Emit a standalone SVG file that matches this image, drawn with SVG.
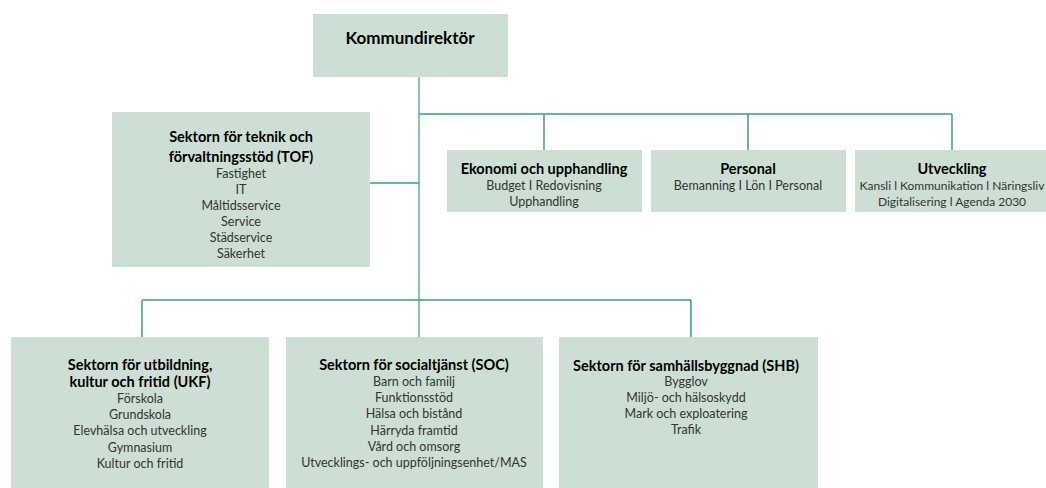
<svg xmlns="http://www.w3.org/2000/svg" width="1046" height="488" viewBox="0 0 1046 488">
<style>
.box{fill:#cddfd4;}
.t{font-family:Lato,"Open Sans","Liberation Sans",sans-serif;text-anchor:middle;dominant-baseline:central;}
.h{font-weight:bold;font-size:14.5px;fill:#000;}
.b{font-size:12.5px;fill:#333;}
.c{stroke:#34a474;stroke-width:1.5;fill:none;}
.m{stroke:#7dcaa4;stroke-width:2;fill:none;}
</style>
<rect width="1046" height="488" fill="#fff"/>
<g id="connectors">
<path class="m" d="M419 77 V337"/>
<path class="c" d="M419 114 H952 M544 114 V150 M748 114 V150 M952 114 V150"/>
<path class="c" d="M370 183 H419"/>
<path class="c" d="M142 300 H691 M142 300 V337 M691 300 V337"/>
</g>
<g id="kommundirektor">
<rect class="box" x="313" y="14" width="195" height="63"/>
<text class="t" x="410" y="37" style="font-weight:bold;font-size:17px">Kommundirektör</text>
</g>
<g id="tof">
<rect class="box" x="112" y="112" width="258" height="155"/>
<text class="t h" x="241" y="136">Sektorn för teknik och</text>
<text class="t h" x="241" y="156">förvaltningsstöd (TOF)</text>
<text class="t b" x="241" y="173">Fastighet</text>
<text class="t b" x="241" y="189">IT</text>
<text class="t b" x="241" y="205">Måltidsservice</text>
<text class="t b" x="241" y="221">Service</text>
<text class="t b" x="241" y="237">Städservice</text>
<text class="t b" x="241" y="253">Säkerhet</text>
</g>
<g id="ekonomi">
<rect class="box" x="447" y="150" width="195" height="62"/>
<text class="t h" x="544" y="168">Ekonomi och upphandling</text>
<text class="t b" x="544" y="185">Budget I Redovisning</text>
<text class="t b" x="544" y="201">Upphandling</text>
</g>
<g id="personal">
<rect class="box" x="651" y="150" width="195" height="62"/>
<text class="t h" x="748" y="168">Personal</text>
<text class="t b" x="748" y="185">Bemanning I Lön I Personal</text>
</g>
<g id="utveckling">
<rect class="box" x="855" y="150" width="191" height="62"/>
<text class="t h" x="952" y="168">Utveckling</text>
<text class="t b" x="952" y="185" style="font-size:12px">Kansli l Kommunikation l Näringsliv</text>
<text class="t b" x="952" y="201" style="font-size:12px">Digitalisering l Agenda 2030</text>
</g>
<g id="ukf">
<rect class="box" x="11" y="337" width="258" height="151"/>
<text class="t h" x="140" y="364">Sektorn för utbildning,</text>
<text class="t h" x="140" y="381">kultur och fritid (UKF)</text>
<text class="t b" x="140" y="398">Förskola</text>
<text class="t b" x="140" y="414">Grundskola</text>
<text class="t b" x="140" y="430">Elevhälsa och utveckling</text>
<text class="t b" x="140" y="447">Gymnasium</text>
<text class="t b" x="140" y="463">Kultur och fritid</text>
</g>
<g id="soc">
<rect class="box" x="286" y="337" width="257" height="151"/>
<text class="t h" x="414" y="364">Sektorn för socialtjänst (SOC)</text>
<text class="t b" x="414" y="381">Barn och familj</text>
<text class="t b" x="414" y="397">Funktionsstöd</text>
<text class="t b" x="414" y="413">Hälsa och bistånd</text>
<text class="t b" x="414" y="430">Härryda framtid</text>
<text class="t b" x="414" y="446">Vård och omsorg</text>
<text class="t b" x="414" y="462">Utvecklings- och uppföljningsenhet/MAS</text>
</g>
<g id="shb">
<rect class="box" x="559" y="337" width="259" height="151"/>
<text class="t h" x="686" y="365">Sektorn för samhällsbyggnad (SHB)</text>
<text class="t b" x="686" y="381">Bygglov</text>
<text class="t b" x="686" y="397">Miljö- och hälsoskydd</text>
<text class="t b" x="686" y="413">Mark och exploatering</text>
<text class="t b" x="686" y="429">Trafik</text>
</g>
</svg>
